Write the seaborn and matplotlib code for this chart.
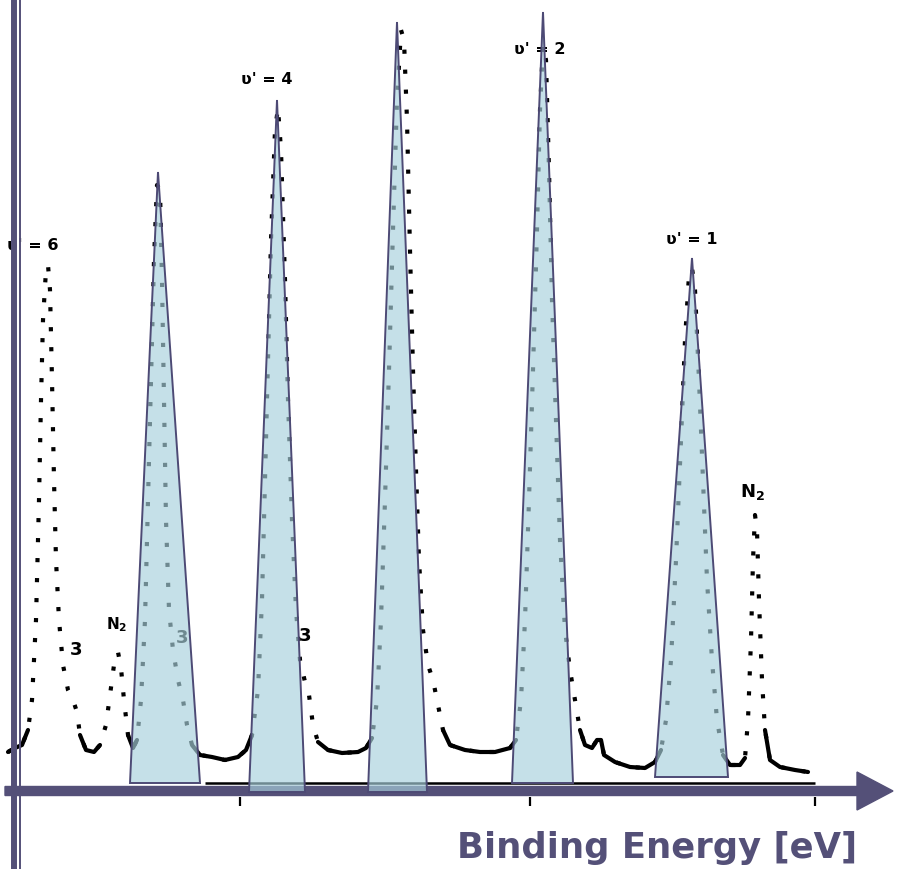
import numpy as np
import pandas as pd
import matplotlib
matplotlib.use("Agg")
import matplotlib.pyplot as plt
import seaborn as sns
from matplotlib.colors import to_rgba

# spectrum (channel ~ binding energy, counts arbitrary)
channel = [8, 15, 22, 28, 32, 36, 39, 41, 43, 46, 48, 50, 52, 54, 56, 59, 63, 68, 73, 77,
           80, 86, 94, 100, 106, 110, 114, 118, 121, 124, 128, 133,
           137, 141, 145, 148, 151, 154, 157, 160, 162, 164, 166, 169, 173, 178, 183, 187,
           192, 200, 212, 225, 238, 246,
           252, 258, 262, 265, 268, 271, 275, 278, 281, 285, 288, 292, 296, 300, 305, 309,
           313, 318, 328, 342, 358, 366,
           372, 377, 381, 385, 389, 393, 397, 401, 404, 407, 410, 413, 416, 419, 423, 428,
           433, 438, 443, 450, 465, 480, 495, 510,
           516, 521, 525, 529, 533, 537, 540, 543, 546, 549, 552, 556, 560, 565, 570, 575,
           580, 585, 592, 597, 601, 604, 615, 630, 645, 655,
           661, 666, 671, 676, 681, 685, 689, 692, 695, 699, 703, 707, 712, 717, 723, 730,
           740, 745,
           748, 751, 753, 755, 757, 759, 762, 765, 770, 780, 795, 808]
counts = [38, 42, 45, 60, 90, 170, 290, 390, 470, 520, 525, 500, 410, 310, 230, 170, 125, 100, 90, 78,
          55, 40, 38, 45, 65, 95, 125, 138, 122, 90, 55, 42,
          50, 90, 170, 290, 410, 530, 605, 600, 510, 390, 270, 180, 140, 110, 90, 65,
          45, 35, 33, 30, 33, 40,
          55, 100, 190, 310, 430, 550, 660, 682, 640, 510, 390, 270, 180, 130, 108, 95,
          65, 48, 40, 37, 38, 42,
          52, 90, 170, 290, 420, 560, 690, 760, 750, 670, 540, 420, 320, 230, 160, 125,
          110, 85, 60, 45, 40, 38, 38, 42,
          50, 90, 170, 290, 420, 560, 680, 745, 730, 620, 490, 370, 250, 160, 120, 90,
          60, 45, 42, 50, 50, 35, 28, 23, 22, 28,
          40, 70, 130, 230, 350, 450, 515, 522, 500, 410, 310, 210, 130, 70, 35, 25,
          25, 32,
          70, 150, 230, 275, 260, 190, 110, 60, 30, 23, 20, 18]

# highlighted peaks (triangles)
tri_apex_x = [158, 277, 397, 543, 692]
tri_apex = [618, 690, 768, 778, 532]
tri_left = [130, 249, 368, 512, 655]
tri_right = [200, 305, 427, 573, 728]
tri_base = [7, -2, -2, 7, 13]

# peak labels
vib_labels = ["ʋ' = 6", "ʋ' = 4", "ʋ' = 2", "ʋ' = 1"]
vib_x = [33, 267, 540, 692]
vib_y = [545, 710, 740, 550]
n2_x = [117, 752]
n2_y = [165, 298]
n2_size = [11, 13]
three_x = [76, 182, 305]
three_y = [140, 152, 154]

axis_color = "#545078"

df = pd.DataFrame({"channel": channel, "counts": counts})

sns.set_style("white")
fig = plt.figure(figsize=(9.03, 8.69), dpi=100)
ax = fig.add_axes([0, 0, 1, 1])
ax.set_xlim(0, 903)
ax.set_ylim(-79, 790)
ax.axis("off")

# dotted spectrum
sns.lineplot(data=df, x="channel", y="counts", ax=ax, color="black", lw=3,
             linestyle=(0, (1, 3.8)), estimator=None, zorder=2)
# the baseline parts look solid in the scan
base = np.where(df["counts"] <= 60, df["counts"], np.nan)
ax.plot(df["channel"], base, color="black", lw=3, zorder=2)

# frame of the original plot
ax.hlines(7, 205, 815, color="black", lw=1.8, zorder=2)
ax.vlines([240, 530, 815], -16, -7, color="black", lw=1.6, zorder=2)

for lab, x, y in zip(vib_labels, vib_x, vib_y):
    ax.text(x, y, lab, ha="center", va="center", fontsize=11.5, fontweight="bold",
            color="black", zorder=3)
for x, y, s in zip(n2_x, n2_y, n2_size):
    ax.text(x, y, r"N$_\mathbf{2}$", ha="center", va="center", fontsize=s,
            fontweight="bold", color="black", zorder=3)
for x, y in zip(three_x, three_y):
    ax.text(x, y, "3", ha="center", va="center", fontsize=13, fontweight="bold",
            color="black", zorder=3)

# arrow axis
ax.arrow(5, -1, 888, 0, width=9, head_width=38, head_length=36,
         length_includes_head=True, color=axis_color, zorder=3)

# triangles over the peaks
face = to_rgba("#a8d1dc", 0.66)
for ax_x, top, l, r, b in zip(tri_apex_x, tri_apex, tri_left, tri_right, tri_base):
    ax.fill([l, ax_x, r], [b, top, b], facecolor=face, edgecolor="#4d4a75",
            lw=1.4, zorder=4)

# double vertical line on the left
ax.axvline(14, color=axis_color, lw=4.3, zorder=5)
ax.axvline(20.5, color=axis_color, lw=1.4, zorder=5)

ax.text(657, -58, "Binding Energy [eV]", ha="center", va="center", fontsize=25.5,
        fontweight="bold", color=axis_color, zorder=5)

fig.savefig("out.png", dpi=100)
